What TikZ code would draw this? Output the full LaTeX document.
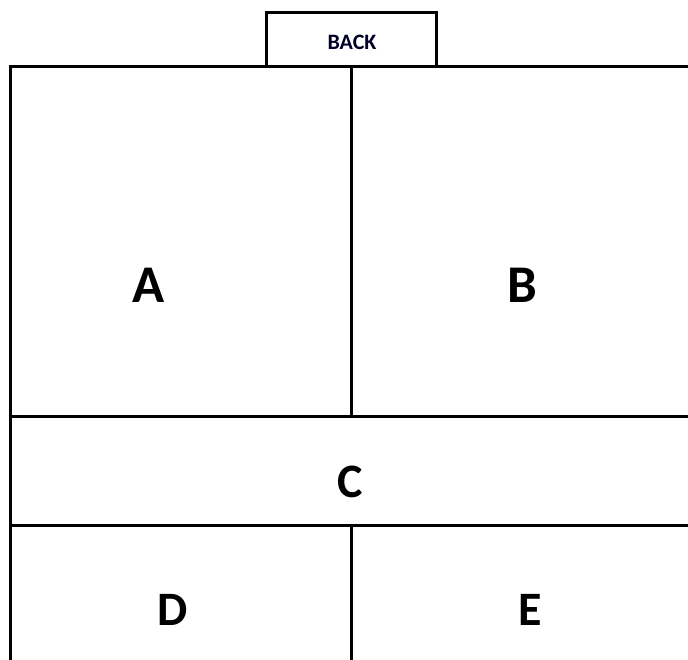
\documentclass[tikz,border=0pt]{standalone}
\usepackage{fontspec}
\setmainfont{Carlito}
\begin{document}
\begin{tikzpicture}[x=1pt,y=-1pt,
  wall/.style={line width=3pt,black},
  bigletter/.style={font=\fontsize{53}{60}\selectfont\bfseries,anchor=base,inner sep=0pt},
  midletter/.style={font=\fontsize{48}{56}\selectfont\bfseries,anchor=base,inner sep=0pt},
  backlabel/.style={font=\fontsize{22}{26}\selectfont\bfseries,anchor=base,inner sep=0pt,text=black!85!blue}]
\useasboundingbox (0,0) rectangle (688,659);
\clip (0,0) rectangle (688,659);
\fill[white] (0,0) rectangle (688,659);
% back box
\draw[wall] (266,66) -- (266,12) -- (436,12) -- (436,66);
% outer frame
\draw[wall] (700,66) -- (10,66) -- (10,670);
% horizontal dividers
\draw[wall] (10,416) -- (700,416);
\draw[wall] (10,525) -- (700,525);
% vertical dividers
\draw[wall] (351,66) -- (351,416);
\draw[wall] (351,525) -- (351,670);
% labels
\node[backlabel] (back) at (352,49) {BACK};
\node[bigletter] (a) at (149,302) {A};
\node[bigletter] (b) at (522,302) {B};
\node[midletter] (c) at (350,497) {C};
\node[midletter] (d) at (173,625) {D};
\node[midletter] (e) at (530,625) {E};
\end{tikzpicture}
\end{document}
